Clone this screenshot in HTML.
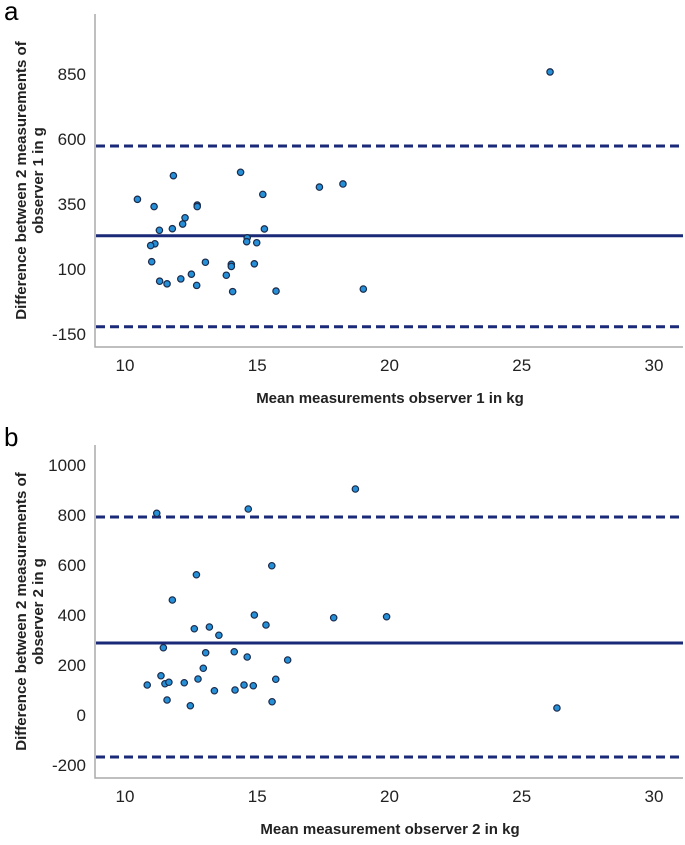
<!DOCTYPE html>
<html><head><meta charset="utf-8"><style>
body{margin:0;background:#fff}
svg text{font-family:"Liberation Sans",Arial,sans-serif}
</style></head><body>
<svg id="chart" width="685" height="840" viewBox="0 0 685 840" xmlns="http://www.w3.org/2000/svg"></svg>
<script>
const xTicks=[10,15,20,25,30];
const aYTicks=[850,600,350,100,-150];
const bYTicks=[1000,800,600,400,200,0,-200];
const aMean=[10.47,11.83,11.10,12.73,12.73,12.27,12.18,11.79,11.30,14.37,15.21,17.35,18.24,15.27,14.62,14.60,14.98,11.13,10.97,11.01,13.04,14.02,14.02,14.89,12.51,13.83,12.11,11.31,11.59,12.71,14.07,15.71,19.01,26.07];
const aDiff=[368,459,340,346,340,297,273,255,249,472,387,415,427,254,220,205,201,197,190,128,126,118,110,120,80,76,62,53,43,37,13,15,23,858];
const aLines=[228,573,-122];
const bMean=[11.20,14.66,18.71,15.55,12.70,11.79,14.89,17.89,19.89,15.33,12.62,13.19,13.55,11.45,13.05,14.13,14.62,16.15,12.96,11.36,12.76,15.70,10.84,11.51,11.66,12.24,13.38,14.16,14.50,14.85,11.59,12.47,15.56,26.33];
const bDiff=[807,824,904,597,561,460,400,389,393,360,345,352,319,269,249,253,232,220,187,157,144,143,120,125,131,129,97,100,120,117,60,37,53,28];
const bLines=[288,792,-168];

const NS="http://www.w3.org/2000/svg";
const svg=document.getElementById('chart');
function mk(tag,attrs,parent){const e=document.createElementNS(NS,tag);for(const k in attrs)e.setAttribute(k,attrs[k]);(parent||svg).appendChild(e);return e;}
const xs=v=>125+(v-10)*26.45;
const L=95,R=683;

function panel(p){
  const g=mk('g',{});
  
  
  const lab=mk('text',{x:4,y:p.letterY,'font-size':26},g);lab.textContent=p.id;
  
  
  const ax=mk('path',{d:`M${L} ${p.top}V${p.bottom}H${R}`,fill:'none',stroke:'#aaa','stroke-width':1.5},g);
  
  
  xTicks.forEach(t=>{const e=mk('text',{x:xs(t),y:p.bottom+24,'font-size':17,'text-anchor':'middle',fill:'#222'},g);e.textContent=t;
    
    });
  p.yTicks.forEach(t=>{const e=mk('text',{x:86,y:p.ys(t)+6,'font-size':17,'text-anchor':'end',fill:'#222'},g);e.textContent=t;
    
    });
  const xt=mk('text',{x:390,y:p.bottom+56,'font-size':15,'font-weight':'bold','text-anchor':'middle',fill:'#222'},g);xt.textContent=p.xTitle;
  
  
  const cy=(p.top+p.bottom)/2;
  const yt=mk('text',{transform:`translate(26,${cy}) rotate(-90)`,'font-size':15,'font-weight':'bold','text-anchor':'middle',fill:'#222'},g);
  
  
  const t1=mk('tspan',{x:0,y:0},yt);t1.textContent=p.yTitle1;
  const t2=mk('tspan',{x:0,y:17},yt);t2.textContent=p.yTitle2;
  p.lines.forEach((v,i)=>{const ln=mk('line',{x1:L+1,x2:R,y1:p.ys(v),y2:p.ys(v),stroke:'#1b2a78','stroke-width':3,'stroke-dasharray':i?'9,5':'none'},g);
    
    });
  p.xs.forEach((x,i)=>{const c=mk('circle',{cx:xs(x),cy:p.ys(p.yv[i]),r:3.2,fill:'#2590d8',stroke:'#1a2a4a','stroke-width':1.2},g);
    
    });
}
panel({id:'a',letterY:20,top:14,bottom:347,ys:v=>74+(850-v)*0.26,yTicks:aYTicks,lines:aLines,xs:aMean,yv:aDiff,
  xTitle:'Mean measurements observer 1 in kg',yTitle1:'Difference between 2 measurements of',yTitle2:'observer 1 in g'});
panel({id:'b',letterY:446,top:445,bottom:778,ys:v=>715-v*0.25,yTicks:bYTicks,lines:bLines,xs:bMean,yv:bDiff,
  xTitle:'Mean measurement observer 2 in kg',yTitle1:'Difference between 2 measurements of',yTitle2:'observer 2 in g'});
</script>
</body></html>
